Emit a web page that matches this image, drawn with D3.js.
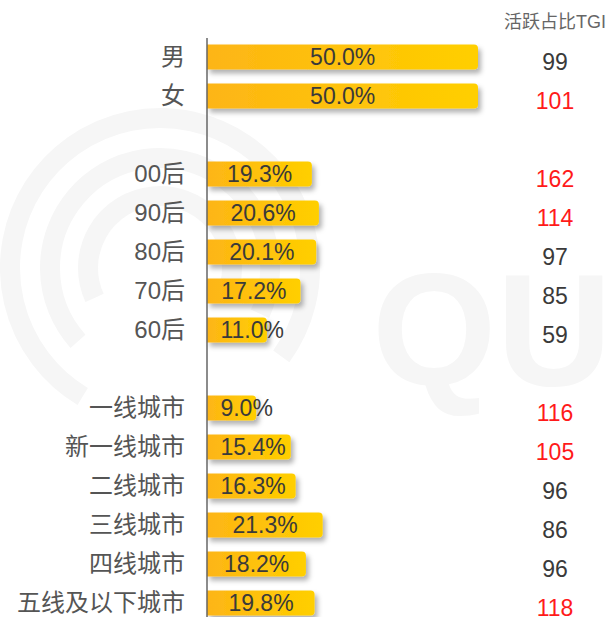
<!DOCTYPE html>
<html>
<head>
<meta charset="utf-8">
<script src="https://cdn.jsdelivr.net/npm/d3@7"></script>
<style>
  body { margin: 0; background: #fff; }
  text { font-family: "Liberation Sans", "Noto Sans CJK SC", sans-serif; }
</style>
</head>
<body>
<div id="chart"></div>
<script>
// rows of the chart, empty keys are the gaps between the groups
const categories = ["男", "女", "gap1", "00后", "90后", "80后", "70后", "60后", "gap2",
  "一线城市", "新一线城市", "二线城市", "三线城市", "四线城市", "五线及以下城市"];
const shares = [50.0, 50.0, null, 19.3, 20.6, 20.1, 17.2, 11.0, null, 9.0, 15.4, 16.3, 21.3, 18.2, 19.8];
const tgi = [99, 101, null, 162, 114, 97, 85, 59, null, 116, 105, 96, 86, 96, 118];
const tgiTitle = "活跃占比TGI";

let width = 611, height = 617;

let svg = d3.select("#chart").append("svg")
    .attr("width", width)
    .attr("height", height);

let defs = svg.append("defs");
let grad = defs.append("linearGradient").attr("id", "barGrad");
grad.append("stop").attr("offset", "0%").attr("stop-color", "#fdb515");
grad.append("stop").attr("offset", "100%").attr("stop-color", "#ffcf00");

let shadow = defs.append("filter").attr("id", "shadow")
    .attr("x", "-10%").attr("y", "-30%").attr("width", "130%").attr("height", "190%");
shadow.append("feDropShadow")
    .attr("dx", 3).attr("dy", 4).attr("stdDeviation", 2.5)
    .attr("flood-color", "#000").attr("flood-opacity", 0.3);

// faint watermark behind the chart
let wm = svg.append("g").attr("fill", "none").attr("stroke", "#f6f6f6");
[150, 110, 72].forEach(function(r, i) {
    wm.append("path")
        .attr("transform", "translate(160,268)")
        .attr("stroke-width", 20)
        .attr("d", d3.arc()({innerRadius: r, outerRadius: r, startAngle: -2.6 + i * 0.3, endAngle: 2.2 - i * 0.2}));
});
svg.append("text")
    .attr("x", 372).attr("y", 385)
    .attr("font-size", 160).attr("font-weight", "bold")
    .attr("fill", "#f6f6f6")
    .text("QUE");

// scales
let y = d3.scaleBand()
    .domain(categories)
    .range([37.5, 37.5 + 39 * categories.length])
    .paddingInner(0.36)
    .paddingOuter(0.18);

let x = d3.scaleLinear()
    .domain([-1, 50])
    .range([202, 478]);

let rows = categories.map(function(c, i) {
    return {cat: c, value: shares[i], tgi: tgi[i]};
}).filter(function(d) { return d.value !== null; });

// bars
svg.append("g")
    .selectAll("path")
    .data(rows)
    .enter().append("path")
        .attr("fill", "url(#barGrad)")
        .attr("filter", "url(#shadow)")
        .attr("d", function(d) {
            let x0 = x(0) - 0.5, x1 = x(d.value), y0 = y(d.cat), h = y.bandwidth(), r = 4;
            return "M" + x0 + "," + y0 + "H" + (x1 - r) + "Q" + x1 + "," + y0 + " " + x1 + "," + (y0 + r)
                + "V" + (y0 + h - r) + "Q" + x1 + "," + (y0 + h) + " " + (x1 - r) + "," + (y0 + h)
                + "H" + x0 + "Z";
        });

// axis line
svg.append("line")
    .attr("x1", 207).attr("x2", 207)
    .attr("y1", 38).attr("y2", height)
    .attr("stroke", "#666").attr("stroke-width", 1.5);

// category labels
svg.append("g")
    .selectAll("text")
    .data(rows)
    .enter().append("text")
        .attr("x", 185)
        .attr("y", function(d) { return y(d.cat) + y.bandwidth() / 2; })
        .attr("dy", "0.35em")
        .attr("text-anchor", "end")
        .attr("font-size", 24)
        .attr("fill", "#555")
        .text(function(d) { return d.cat; });

// value labels inside bars
svg.append("g")
    .selectAll("text")
    .data(rows)
    .enter().append("text")
        .attr("y", function(d) { return y(d.cat) + y.bandwidth() / 2; })
        .attr("dy", "0.36em")
        .attr("text-anchor", "middle")
        .attr("font-size", 23)
        .attr("fill", "#3a3a3a")
        .text(function(d) { return d.value.toFixed(1) + "%"; })
        .attr("x", function(d) {
            let w = this.getComputedTextLength();
            let mid = (x(0) + x(d.value)) / 2;
            return Math.max(mid, x(0) + 13 + w / 2);
        });

// TGI column
svg.append("text")
    .attr("x", 555).attr("y", 28)
    .attr("text-anchor", "middle")
    .attr("font-size", 18)
    .attr("fill", "#666")
    .text(tgiTitle);

svg.append("g")
    .selectAll("text")
    .data(rows)
    .enter().append("text")
        .attr("x", 555)
        .attr("y", function(d) { return y(d.cat) + y.bandwidth() / 2 + 5; })
        .attr("dy", "0.36em")
        .attr("text-anchor", "middle")
        .attr("font-size", 23)
        .attr("fill", function(d) { return d.tgi > 100 ? "#ff1a1a" : "#3a3a3a"; })
        .text(function(d) { return d.tgi; });
</script>
</body>
</html>
